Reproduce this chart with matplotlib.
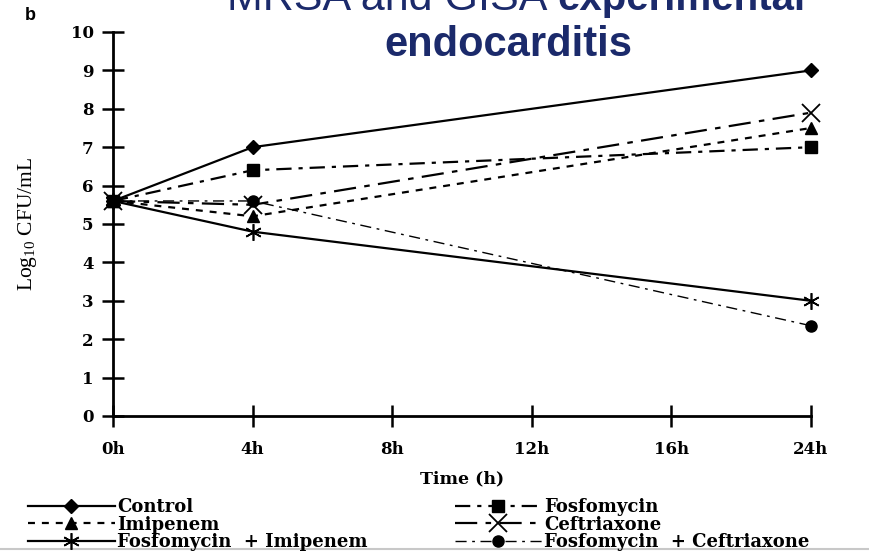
import matplotlib
matplotlib.use("Agg")
import matplotlib.pyplot as plt
from matplotlib.lines import Line2D

plt.rcParams['lines.scale_dashes'] = False
plt.rcParams['mathtext.fontset'] = 'custom'
plt.rcParams['mathtext.rm'] = 'Liberation Serif'

# ---- data ----
tick_labels = ["0h", "4h", "8h", "12h", "16h", "24h"]
time_points = ["0h", "4h", "24h"]
control = [5.6, 7.0, 9.0]
fosfomycin = [5.6, 6.4, 7.0]
imipenem = [5.6, 5.2, 7.5]
ceftriaxone = [5.6, 5.5, 7.9]
fosfo_imi = [5.6, 4.8, 3.0]
fosfo_ceftr = [5.6, 5.6, 2.35]

series_names = ["Control", "Fosfomycin", "Imipenem", "Ceftriaxone",
                "Fosfomycin  + Imipenem", "Fosfomycin  + Ceftriaxone"]

xpos = [tick_labels.index(t) for t in time_points]

fig = plt.figure(figsize=(8.69, 5.53), dpi=100)
W, H = 869, 553
ax = fig.add_axes([113 / W, 1 - 416 / H, (811 - 113) / W, (416 - 32) / H])

serif_wide = 'DejaVu Serif'
serif = 'Liberation Serif'
styles = [
    dict(ls='-', marker='D', ms=7, lw=1.6),
    dict(ls=(0, (11, 5, 3, 5)), marker='s', ms=8, lw=1.6),
    dict(ls=(0, (5, 5)), marker='^', ms=8, lw=1.6),
    dict(ls=(0, (16, 6, 4, 6)), marker='x', ms=13, mew=1.3, lw=1.6),
    dict(ls='-', marker=(6, 2, 0), ms=12, mew=1.2, lw=1.6),
    dict(ls=(0, (8, 4, 2, 4)), marker='o', ms=8, lw=1.0),
]
data = [control, fosfomycin, imipenem, ceftriaxone, fosfo_imi, fosfo_ceftr]
handles = []
for name, vals, st in zip(series_names, data, styles):
    h, = ax.plot(xpos, vals, color='black', clip_on=False, label=name, **st)
    handles.append(h)

ax.set_xlim(0, 5)
ax.set_ylim(0, 10)
ax.set_xticks(range(len(tick_labels)))
ax.set_xticklabels(tick_labels)
ax.set_yticks(range(0, 11))
for s in ['top', 'right']:
    ax.spines[s].set_visible(False)
for s in ['left', 'bottom']:
    ax.spines[s].set_linewidth(2.0)
ax.tick_params(direction='inout', length=16, width=1.8)
ax.tick_params(axis='y', pad=6)
ax.tick_params(axis='x', pad=10)
for lab in ax.get_xticklabels() + ax.get_yticklabels():
    lab.set_fontfamily(serif_wide)
    lab.set_fontweight('bold')
    lab.set_fontsize(12)

ax.set_xlabel("Time (h)", fontfamily=serif_wide, fontweight='bold', fontsize=12.5)
ax.xaxis.set_label_coords(0.5, -(470 - 416) / 384)
ax.set_ylabel("Log$_{\\mathrm{10}}$ CFU/mL", fontfamily=serif, fontsize=15.5)
ax.yaxis.set_label_coords(-(113 - 39) / 698, 0.5)

# legends
kw = dict(frameon=False, prop={'family': serif_wide, 'weight': 'bold', 'size': 13},
          handlelength=4.8, handletextpad=0.15, labelspacing=-0.02, borderpad=0,
          borderaxespad=0)
leg1 = fig.legend([handles[0], handles[2], handles[4]],
                  [series_names[0], series_names[2], series_names[4]],
                  loc='upper left', bbox_to_anchor=(28 / W, 1 - 498 / H), **kw)
leg2 = fig.legend([handles[1], handles[3], handles[5]],
                  [series_names[1], series_names[3], series_names[5]],
                  loc='upper left', bbox_to_anchor=(455 / W, 1 - 498 / H), **kw)

# title and panel label
navy = '#1b2a6b'
fig.text(547 / W, 1 - 10 / H, "MRSA and GISA", ha='right', va='baseline',
         fontfamily='Liberation Sans', fontsize=31, color=navy)
fig.text(557 / W, 1 - 10 / H, "experimental", ha='left', va='baseline',
         fontfamily='Liberation Sans', fontweight='bold', fontsize=29, color=navy)
fig.text(508 / W, 1 - 56 / H, "endocarditis", ha='center', va='baseline',
         fontfamily='Liberation Sans', fontweight='bold', fontsize=30, color=navy)
fig.text(25 / W, 1 - 20 / H, "b", ha='left', va='baseline',
         fontfamily='Liberation Sans', fontweight='bold', fontsize=13, color='black')

fig.add_artist(Line2D([0, 1], [1 - 549 / H, 1 - 549 / H], color='#c8c8c8', lw=1.5,
                      transform=fig.transFigure))

fig.savefig("out.png", dpi=100)
